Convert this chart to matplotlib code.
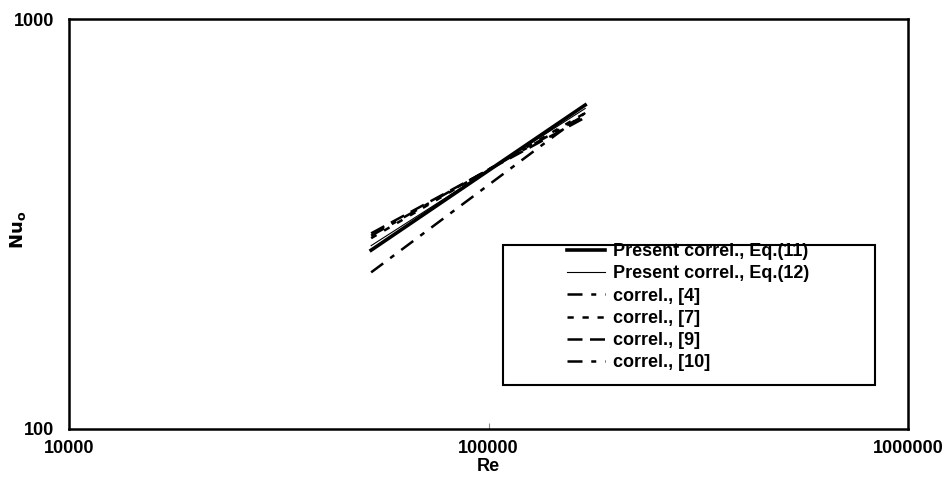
import matplotlib
matplotlib.use("Agg")
import matplotlib.pyplot as plt
from matplotlib.patches import Rectangle

plt.rcParams['font.family'] = ['Liberation Sans', 'DejaVu Sans']
plt.rcParams['font.weight'] = 'bold'

# Re range covered by all correlations
re_range = [52500, 170000]

# Nu_o at the two ends of each correlation
nu_eq11 = [273, 617]
nu_eq12 = [280, 605]
nu_ref4 = [241, 590]
nu_ref7 = [292, 590]
nu_ref9 = [300, 575]
nu_ref10 = [296, 583]

labels = ['Present correl., Eq.(11)', 'Present correl., Eq.(12)',
          'correl., [4]', 'correl., [7]', 'correl., [9]', 'correl., [10]']

fig = plt.figure(figsize=(9.51, 4.8), dpi=100)
ax = fig.add_axes([0.0726, 0.1063, 0.8822, 0.8541])

ax.plot(re_range, nu_eq11, color='black', lw=2.6, label=labels[0])
ax.plot(re_range, nu_eq12, color='black', lw=0.8, label=labels[1])
ax.plot(re_range, nu_ref4, color='black', lw=1.8, dashes=(6, 3.5, 2, 3.5), label=labels[2])
ax.plot(re_range, nu_ref7, color='black', lw=1.8, dashes=(2.5, 3.5), label=labels[3])
ax.plot(re_range, nu_ref9, color='black', lw=1.8, dashes=(6, 3), label=labels[4])
ax.plot(re_range, nu_ref10, color='black', lw=1.8, dashes=(6, 3.5, 2, 3.5), label=labels[5])

ax.set_xscale('log')
ax.set_yscale('log')
ax.set_xlim(10000, 1000000)
ax.set_ylim(100, 1000)
ax.set_xticks([10000, 100000, 1000000])
ax.set_xticklabels(['10000', '100000', '1000000'])
ax.set_yticks([100, 1000])
ax.set_yticklabels(['100', '1000'])
ax.minorticks_off()
ax.tick_params(direction='in', length=4, width=0.8, color='#888888', labelsize=13, pad=11)
ax.tick_params(axis='x', pad=8)
for s in ax.spines.values():
    s.set_linewidth(1.8)

ax.set_xlabel('Re', fontsize=13, fontweight='bold', va='top')
ax.xaxis.set_label_coords(0.5, -0.07)
ax.set_ylabel(r'$\mathbf{Nu_o}$', fontsize=13)
ax.yaxis.set_label_coords(-0.049, 0.485)

# legend frame drawn separately so the entries sit toward the right
ax.add_patch(Rectangle((0.517, 0.107), 0.444, 0.342, transform=ax.transAxes,
                       fill=False, lw=1.5, edgecolor='black', zorder=3))
ax.legend(loc='upper left', bbox_to_anchor=(0.5936, 0.453), frameon=False,
          borderpad=0, borderaxespad=0, handlelength=2.1, handletextpad=0.45,
          labelspacing=0.29, prop={'weight': 'bold', 'size': 13})

fig.savefig('out.png', dpi=100)
